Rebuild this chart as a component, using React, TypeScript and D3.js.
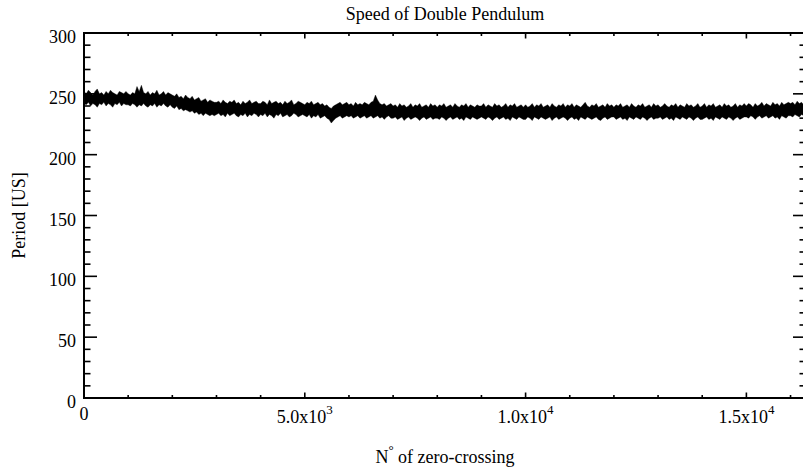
import React, { useRef, useEffect } from 'react';
import * as d3 from 'd3';

const WIDTH = 803;
const HEIGHT = 467;
const MARGIN = { top: 33, right: -3, bottom: 69, left: 84 };
const FONT = "'Liberation Serif', 'Times New Roman', serif";

// period envelope (max / min) per bin of 50 zero-crossings
const CROSSING_STEP = 50;
const X_MAX = 16350;
const periodHigh: number[] = [
  252, 250, 253, 251, 249, 252, 254, 250, 251, 249, 252, 250, 253, 251, 250, 249, 252, 251, 250, 252,
  250, 249, 251, 250, 256, 252, 257, 251, 250, 252, 249, 251, 250, 253, 249, 250, 252, 249, 251, 250,
  249, 248, 250, 247, 248, 246, 249, 247, 246, 248, 245, 246, 247, 244, 245, 246, 243, 245, 244, 243,
  243, 244, 242, 245, 243, 242, 244, 243, 245, 242, 243, 241, 244, 242, 243, 245, 242, 243, 244, 242,
  242, 244, 243, 241, 245, 242, 243, 244, 242, 243, 241, 244, 242, 243, 245, 241, 242, 244, 243, 242,
  241, 243, 242, 244, 241, 242, 243, 241, 242, 240, 241, 239, 238, 240, 241, 242, 243, 241, 242, 243,
  241, 242, 240, 243, 241, 242, 241, 243, 242, 241, 243, 244, 249, 245, 242, 241, 242, 240, 241, 242,
  240, 241, 239, 242, 240, 241, 239, 240, 242, 239, 241, 240, 242, 239, 240, 241, 239, 242, 240, 241,
  239, 241, 240, 242, 239, 240, 241, 239, 242, 240, 239, 241, 240, 242, 239, 241, 240, 239, 241, 240,
  240, 242, 239, 241, 240, 239, 242, 240, 241, 239, 240, 242, 239, 241, 240, 242, 239, 240, 241, 239,
  241, 239, 240, 242, 239, 241, 240, 242, 239, 240, 241, 239, 242, 240, 239, 241, 240, 242, 239, 241,
  240, 242, 239, 241, 240, 239, 241, 243, 240, 239, 241, 240, 242, 239, 240, 241, 239, 242, 240, 241,
  239, 241, 240, 242, 239, 240, 241, 239, 242, 240, 239, 241, 240, 242, 239, 240, 241, 239, 242, 240,
  241, 239, 240, 242, 240, 239, 241, 240, 242, 239, 241, 240, 239, 242, 240, 241, 239, 240, 242, 239,
  240, 242, 239, 241, 240, 242, 239, 240, 241, 239, 242, 240, 241, 239, 240, 242, 239, 241, 240, 242,
  240, 242, 241, 239, 242, 240, 241, 243, 240, 242, 241, 240, 243, 241, 242, 240, 243, 241, 242, 243,
  242, 243, 241, 244, 242, 243, 241, 243,
];
const periodLow: number[] = [
  242, 241, 243, 240, 242, 241, 239, 242, 241, 243, 240, 242, 241, 239, 242, 241, 243, 240, 242, 241,
  241, 240, 242, 241, 239, 241, 240, 242, 240, 239, 241, 240, 242, 239, 241, 240, 242, 240, 239, 241,
  239, 238, 240, 237, 238, 236, 237, 236, 235, 236, 234, 235, 233, 234, 232, 234, 233, 232, 233, 232,
  233, 234, 232, 233, 231, 234, 232, 233, 234, 232, 231, 233, 232, 234, 231, 233, 232, 234, 233, 231,
  233, 232, 234, 231, 233, 232, 230, 233, 232, 234, 231, 232, 233, 231, 232, 234, 233, 231, 232, 233,
  232, 231, 233, 230, 232, 231, 233, 230, 231, 232, 230, 229, 226, 228, 230, 231, 232, 230, 231, 232,
  231, 232, 230, 231, 232, 230, 231, 232, 230, 231, 232, 230, 231, 232, 230, 231, 229, 231, 232, 230,
  230, 231, 229, 230, 231, 228, 230, 231, 229, 230, 231, 230, 228, 230, 231, 229, 230, 231, 229, 230,
  230, 229, 231, 230, 228, 230, 231, 229, 230, 231, 229, 230, 228, 231, 230, 229, 231, 230, 229, 230,
  231, 230, 229, 231, 230, 228, 230, 231, 229, 230, 231, 229, 230, 228, 231, 230, 229, 231, 230, 229,
  229, 231, 230, 228, 231, 230, 229, 231, 230, 229, 230, 231, 228, 230, 231, 229, 230, 231, 230, 228,
  230, 231, 229, 230, 228, 231, 230, 229, 231, 230, 229, 230, 231, 229, 228, 230, 231, 229, 230, 231,
  231, 229, 230, 231, 229, 230, 228, 231, 230, 229, 231, 230, 229, 231, 230, 228, 230, 231, 229, 230,
  230, 231, 229, 230, 231, 229, 230, 228, 231, 230, 229, 231, 230, 229, 231, 230, 228, 230, 231, 229,
  229, 230, 231, 229, 230, 228, 231, 230, 229, 231, 230, 229, 231, 230, 228, 230, 231, 229, 230, 231,
  231, 230, 232, 231, 229, 231, 232, 230, 231, 232, 230, 231, 232, 230, 231, 229, 232, 231, 230, 232,
  232, 231, 233, 232, 231, 233, 232, 231,
];

const xMajorTicks = [0, 5000, 10000, 15000];
const xTickLabels = [
  { mant: '0', exp: '' },
  { mant: '5.0x10', exp: '3' },
  { mant: '1.0x10', exp: '4' },
  { mant: '1.5x10', exp: '4' },
];
const xMinorTicks = d3.range(0, 17000, 1000);
const yMajorTicks = [0, 50, 100, 150, 200, 250, 300];
const yMinorTicks = d3.range(0, 301, 10);

export default function App() {
  const svgRef = useRef<SVGSVGElement>(null);

  useEffect(() => {
    if (!svgRef.current) return;
    const innerW = WIDTH - MARGIN.left - MARGIN.right;
    const innerH = HEIGHT - MARGIN.top - MARGIN.bottom;

    const x = d3.scaleLinear().domain([0, X_MAX]).range([0, innerW]);
    const y = d3.scaleLinear().domain([0, 300]).range([innerH, 0]);

    const svg = d3.select(svgRef.current);
    svg.selectAll('*').remove();
    const g = svg.append('g').attr('transform', `translate(${MARGIN.left},${MARGIN.top})`);

    // data band (dense trace drawn as its min/max envelope)
    const area = d3.area<number>()
      .x((_, i) => x(i * CROSSING_STEP))
      .y0((_, i) => y(periodLow[i]))
      .y1(d => y(d));
    g.append('path').datum(periodHigh).attr('d', area)
      .attr('fill', '#000').attr('stroke', '#000').attr('stroke-width', 0.4);

    const tickStroke = (sel: any) => sel.attr('stroke', '#000').attr('stroke-width', 1.6);

    // x ticks bottom + top
    const xMinor = xMinorTicks.filter(d => !xMajorTicks.includes(d) && d <= X_MAX);
    [[innerH, -1], [0, 1]].forEach(([base, dir]) => {
      g.append('g').selectAll('line').data(xMajorTicks).join('line')
        .attr('x1', d => x(d)).attr('x2', d => x(d))
        .attr('y1', base).attr('y2', base + dir * 5.5).call(tickStroke);
      g.append('g').selectAll('line').data(xMinor).join('line')
        .attr('x1', d => x(d)).attr('x2', d => x(d))
        .attr('y1', base).attr('y2', base + dir * 3).call(tickStroke);
    });

    // y ticks left + right
    const yMinor = yMinorTicks.filter(d => !yMajorTicks.includes(d));
    [[0, 1], [innerW, -1]].forEach(([base, dir]) => {
      g.append('g').selectAll('line').data(yMajorTicks).join('line')
        .attr('y1', d => y(d)).attr('y2', d => y(d))
        .attr('x1', base).attr('x2', base + dir * 13).call(tickStroke);
      g.append('g').selectAll('line').data(yMinor).join('line')
        .attr('y1', d => y(d)).attr('y2', d => y(d))
        .attr('x1', base).attr('x2', base + dir * 6.5).call(tickStroke);
    });

    // frame
    g.append('rect').attr('width', innerW).attr('height', innerH)
      .attr('fill', 'none').attr('stroke', '#000').attr('stroke-width', 2);

    // y tick labels
    g.append('g').selectAll('text').data(yMajorTicks).join('text')
      .attr('x', -8).attr('y', d => y(d) + 10)
      .attr('text-anchor', 'end').attr('font-size', 18).style('font-family', FONT)
      .text(d => d);

    // x tick labels
    const xl = g.append('g').selectAll('text').data(xMajorTicks).join('text')
      .attr('x', d => x(d)).attr('y', (_, i) => innerH + (i === 0 ? 22 : 25))
      .attr('text-anchor', 'middle').attr('font-size', 18).style('font-family', FONT);
    xl.append('tspan').text((_, i) => xTickLabels[i].mant);
    xl.append('tspan').attr('dy', -9).attr('font-size', 13).text((_, i) => xTickLabels[i].exp);

    // title
    svg.append('text').attr('x', MARGIN.left + innerW / 2).attr('y', 20)
      .attr('text-anchor', 'middle').attr('font-size', 18).style('font-family', FONT)
      .text('Speed of Double Pendulum');

    // axis titles
    const xt = svg.append('text').attr('x', MARGIN.left + innerW / 2).attr('y', 463)
      .attr('text-anchor', 'middle').attr('font-size', 18).style('font-family', FONT);
    xt.append('tspan').text('N');
    xt.append('tspan').attr('dy', -9).attr('font-size', 13).text('°');
    xt.append('tspan').attr('dy', 9).text(' of zero-crossing');

    svg.append('text')
      .attr('transform', `translate(25,${MARGIN.top + innerH / 2}) rotate(-90)`)
      .attr('text-anchor', 'middle').attr('font-size', 18).style('font-family', FONT)
      .text('Period [US]');
  }, []);

  return (
    <svg ref={svgRef} width={WIDTH} height={HEIGHT}
      style={{ position: 'absolute', left: 0, top: 0, overflow: 'hidden', background: '#fff' }} />
  );
}
